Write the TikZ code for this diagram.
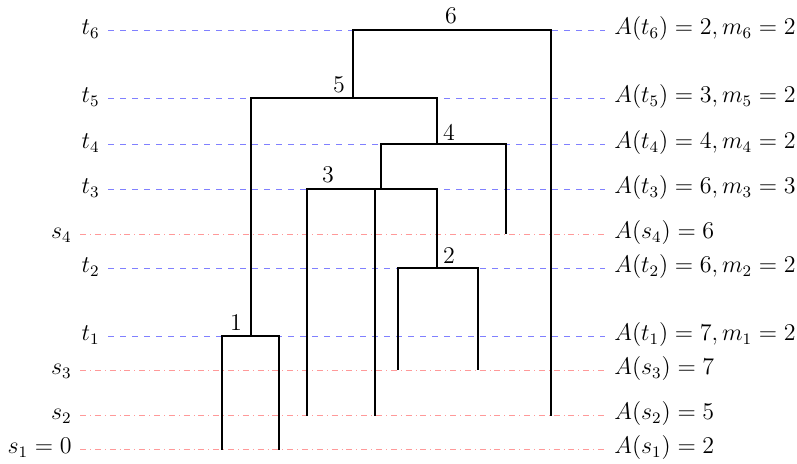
\documentclass[tikz,border=0pt]{standalone}
\begin{document}
\begin{tikzpicture}[x=0.5pt,y=-0.5pt,
  tline/.style={blue!50, dashed, line width=0.8pt},
  sline/.style={red!40, dash dot, line width=0.8pt},
  tree/.style={black, line width=1pt},
  lbl/.style={font=\large, inner sep=0pt},
  num/.style={font=\large, inner sep=0pt}]
\useasboundingbox (0,0) rectangle (797,464);

% level labels
\node[lbl, anchor=mid east] (Lt6) at (100,30.5) {$t_6$};
\node[lbl, anchor=mid east] (Lt5) at (100,98.5) {$t_5$};
\node[lbl, anchor=mid east] (Lt4) at (100,144.5) {$t_4$};
\node[lbl, anchor=mid east] (Lt3) at (100,189.5) {$t_3$};
\node[lbl, anchor=mid east] (Ls4) at (72,234.5) {$s_4$};
\node[lbl, anchor=mid east] (Lt2) at (100,268.5) {$t_2$};
\node[lbl, anchor=mid east] (Lt1) at (100,336.5) {$t_1$};
\node[lbl, anchor=mid east] (Ls3) at (72,370.5) {$s_3$};
\node[lbl, anchor=mid east] (Ls2) at (72,415.5) {$s_2$};
\node[lbl, anchor=mid east] (Ls1) at (72,449.5) {$s_1 = 0$};

\node[lbl, anchor=mid west] (Rt6) at (614,30.5) {$A(t_6) = 2, m_6 = 2$};
\node[lbl, anchor=mid west] (Rt5) at (614,98.5) {$A(t_5) = 3, m_5 = 2$};
\node[lbl, anchor=mid west] (Rt4) at (614,144.5) {$A(t_4) = 4, m_4 = 2$};
\node[lbl, anchor=mid west] (Rt3) at (614,189.5) {$A(t_3) = 6, m_3 = 3$};
\node[lbl, anchor=mid west] (Rs4) at (614,234.5) {$A(s_4) = 6$};
\node[lbl, anchor=mid west] (Rt2) at (614,268.5) {$A(t_2) = 6, m_2 = 2$};
\node[lbl, anchor=mid west] (Rt1) at (614,336.5) {$A(t_1) = 7, m_1 = 2$};
\node[lbl, anchor=mid west] (Rs3) at (614,370.5) {$A(s_3) = 7$};
\node[lbl, anchor=mid west] (Rs2) at (614,415.5) {$A(s_2) = 5$};
\node[lbl, anchor=mid west] (Rs1) at (614,449.5) {$A(s_1) = 2$};

% guide lines
\foreach \n in {t6,t5,t4,t3,t2,t1}
  \draw[tline] ([xshift=4pt]L\n.mid east) -- ([xshift=-4.5pt]R\n.mid west);
\foreach \n in {s4,s3,s2,s1}
  \draw[sline] ([xshift=4pt]L\n.mid east) -- ([xshift=-3.5pt]R\n.mid west);

% tree points
\coordinate (a1) at (221.5,449.5);
\coordinate (a2) at (278.5,449.5);
\coordinate (b1) at (306.5,415.5);
\coordinate (b2) at (374.5,415.5);
\coordinate (c1) at (397.5,370.5);
\coordinate (c2) at (477.5,370.5);
\coordinate (d)  at (505.5,234.5);
\coordinate (e)  at (550.5,415.5);
\coordinate (n1) at (250.5,336.5);
\coordinate (n2) at (436.5,268.5);
\coordinate (n3) at (380.5,189.5);
\coordinate (n4) at (436.5,144.5);
\coordinate (n5) at (352.5,98.5);
\coordinate (n6r) at (550.5,30.5);

\draw[tree] (a1) |- (n1) -| (a2);
\draw[tree] (c1) |- (n2) -| (c2);
\draw[tree] (b1) |- (n3) -| (n2);
\draw[tree] (b2) -- (b2 |- n3);
\draw[tree] (n3) |- (n4) -| (d);
\draw[tree] (n1) |- (n5) -| (n4);
\draw[tree] (n5) |- (n6r) -- (e);

% merge numbers
\node[num] (k1) at (236,322.5) {1};
\node[num] (k2) at (449,256) {2};
\node[num] (k3) at (328,175) {3};
\node[num] (k4) at (449,132) {4};
\node[num] (k5) at (339,85) {5};
\node[num] (k6) at (451,16) {6};
\end{tikzpicture}
\end{document}
